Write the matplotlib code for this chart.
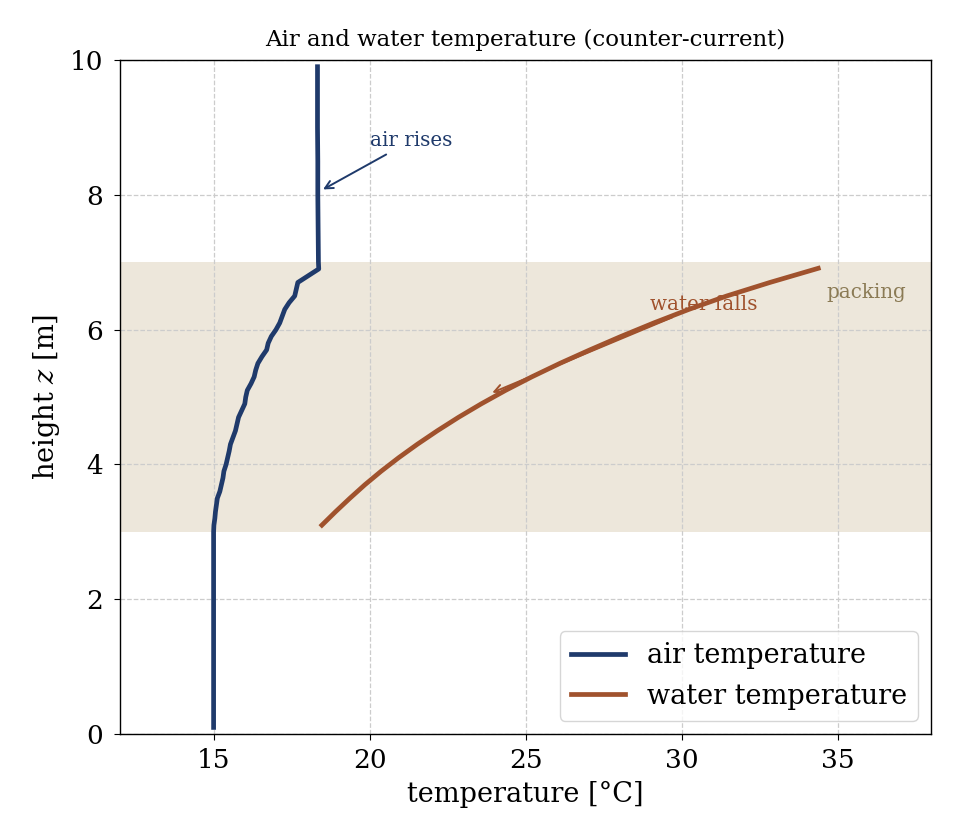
import matplotlib
matplotlib.use("Agg")
import matplotlib.pyplot as plt

plt.rcParams['font.family'] = ['DejaVu Serif']
plt.rcParams['mathtext.fontset'] = 'dejavuserif'
plt.rcParams['axes.linewidth'] = 1.0
plt.rcParams['xtick.major.size'] = 4.5
plt.rcParams['ytick.major.size'] = 4.5
plt.rcParams['xtick.major.pad'] = 5.5
plt.rcParams['ytick.major.pad'] = 7.5

# Air temperature profile (height z [m], temperature [°C])
air_z = [0.1, 0.5, 1.0, 1.5, 2.0, 2.5, 3.0,
         3.1, 3.2, 3.3, 3.4, 3.5, 3.6, 3.7, 3.8, 3.9, 4.0,
         4.1, 4.2, 4.3, 4.4, 4.5, 4.6, 4.7, 4.8, 4.9, 5.0,
         5.1, 5.2, 5.3, 5.4, 5.5, 5.6, 5.7, 5.8, 5.9, 6.0,
         6.1, 6.2, 6.3, 6.4, 6.5, 6.6, 6.7, 6.9,
         7.0, 7.5, 8.0, 8.5, 9.0, 9.5, 9.9]
air_T = [15.0, 15.0, 15.0, 15.0, 15.0, 15.0, 15.0,
         15.01, 15.04, 15.06, 15.09, 15.12, 15.2, 15.25, 15.3, 15.33, 15.4,
         15.45, 15.5, 15.54, 15.62, 15.7, 15.75, 15.8, 15.9, 16.0, 16.03,
         16.08, 16.2, 16.3, 16.35, 16.42, 16.55, 16.7, 16.75, 16.85, 17.0,
         17.12, 17.2, 17.28, 17.42, 17.6, 17.65, 17.7, 18.37,
         18.36, 18.35, 18.34, 18.34, 18.33, 18.33, 18.33]

# Water temperature profile
water_z = [3.1, 3.3, 3.5, 3.7, 3.9, 4.1, 4.3, 4.5, 4.7, 4.9, 5.1,
           5.3, 5.5, 5.7, 5.9, 6.1, 6.3, 6.5, 6.7, 6.91]
water_T = [18.47, 18.91, 19.37, 19.85, 20.37, 20.93, 21.53, 22.17, 22.85, 23.58, 24.36,
           25.20, 26.10, 27.06, 28.06, 29.11, 30.23, 31.45, 32.83, 34.38]

packing_bottom = 3.0
packing_top = 7.0

navy = '#1f3a6b'
sienna = '#a0522d'
band = '#ede7db'
packing_col = '#8b7b55'

fig = plt.figure(figsize=(9.6, 8.4), dpi=100)
ax = fig.add_axes([0.125, 0.126, 0.845, 0.8026])

ax.axhspan(packing_bottom, packing_top, color=band, zorder=0, lw=0)
ax.plot(air_T, air_z, color=navy, lw=3.4, label='air temperature', zorder=3)
ax.plot(water_T, water_z, color=sienna, lw=3.4, label='water temperature', zorder=3)

ax.set_xlim(12, 38)
ax.set_ylim(0, 10)
ax.set_xticks([15, 20, 25, 30, 35])
ax.set_yticks([0, 2, 4, 6, 8, 10])
ax.tick_params(labelsize=19)
ax.grid(True, linestyle='--', color='#cccccc', linewidth=0.9)
ax.set_axisbelow(True)

ax.set_xlabel('temperature [°C]', fontsize=19.5, labelpad=6)
ax.set_ylabel('height $z$ [m]', fontsize=19.5, labelpad=6)
ax.set_title('Air and water temperature (counter-current)', fontsize=16.5, pad=10)

ax.annotate('air rises', xy=(18.43, 8.06), xytext=(20.0, 8.8),
            ha='left', va='center', fontsize=14.3, color=navy,
            arrowprops=dict(arrowstyle='->', color=navy, lw=1.4))
ax.annotate('water falls', xy=(23.85, 5.05), xytext=(29.0, 6.38),
            ha='left', va='center', fontsize=14.3, color=sienna,
            arrowprops=dict(arrowstyle='->', color=sienna, lw=1.4))
ax.text(34.65, 6.55, 'packing', ha='left', va='center', fontsize=14.3, color=packing_col)

ax.legend(loc='lower right', fontsize=19.5)

fig.savefig('out.png', dpi=100)
